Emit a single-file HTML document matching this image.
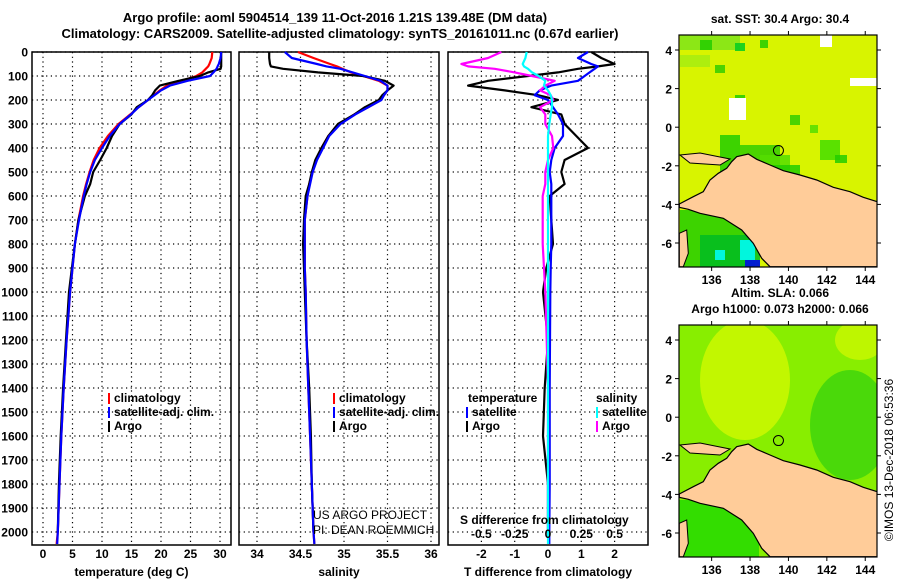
<!DOCTYPE html>
<html><head><meta charset="utf-8">
<style>
body{margin:0;background:#fff;}
svg{display:block;font-family:"Liberation Sans",sans-serif;}
.b{font-weight:bold;font-size:12px;}
.t{font-weight:bold;font-size:13px;}
</style></head>
<body>
<svg id="fig" width="900" height="580" viewBox="0 0 900 580">
<defs>
<clipPath id="clipA"><rect x="679" y="35" width="198" height="232"/></clipPath>
<clipPath id="clipB"><rect x="679" y="325" width="198" height="232"/></clipPath>
</defs>
<text class="t" x="335" y="22" text-anchor="middle">Argo profile: aoml 5904514_139 11-Oct-2016 1.21S 139.48E (DM data)</text>
<text class="t" x="340" y="38" text-anchor="middle">Climatology: CARS2009. Satellite-adjusted climatology: synTS_20161011.nc (0.67d earlier)</text>
<g id="panels"></g>
<g id="maps"></g>
<text x="893" y="460" font-size="12" text-anchor="middle" transform="rotate(-90 893 460)">©IMOS 13-Dec-2018 06:53:36</text>
</svg>
<script>
const depths=[0,25,50,60,70,85,100,120,140,160,180,200,230,260,300,350,400,450,500,550,600,700,800,900,1000,1200,1400,1600,1800,2000,2050];
const tArgo=[30.2,30.2,30.2,30.2,30.1,28,26.6,23,19.8,19,18.5,17.8,15.9,15,13,11.7,10.8,9.7,8.5,8,7.1,6.0,5.4,4.9,4.4,3.9,3.4,3.0,2.7,2.5,null];
const tClim=[28.7,28.6,28.2,28.0,27.6,27,26,23.5,21,19.8,18.8,17.8,16.2,14.8,12.8,11.0,9.6,8.6,7.9,7.3,6.8,6.0,5.4,5.0,4.6,4.0,3.5,3.1,2.8,2.5,2.3];
const tSat=[30.2,30.1,29.8,29.6,29.4,28.9,28.3,24.5,21.5,20.0,18.9,17.8,16.2,14.9,13.0,11.3,10.0,8.8,8.0,7.4,6.9,6.1,5.4,5.0,4.6,4.0,3.5,3.1,2.8,2.5,2.4];
const sArgo=[34.14,34.14,34.15,34.16,34.3,34.7,35.22,35.47,35.57,35.5,35.44,35.40,35.24,35.12,34.93,34.82,34.74,34.67,34.63,34.6,34.56,34.54,34.53,34.54,34.55,34.57,34.6,34.62,34.63,34.65,null];
const sClim=[34.47,34.65,34.84,34.92,34.98,35.08,35.22,35.4,35.5,35.5,35.46,35.42,35.28,35.12,34.95,34.82,34.74,34.68,34.64,34.6,34.58,34.55,34.55,34.55,34.56,34.57,34.59,34.61,34.63,34.65,34.66];
const sSat=[34.32,34.4,34.69,34.8,34.96,35.1,35.24,35.42,35.5,35.5,35.46,35.43,35.28,35.13,34.96,34.83,34.76,34.69,34.64,34.61,34.58,34.55,34.55,34.55,34.56,34.57,34.59,34.61,34.63,34.65,34.66];
const dTArgo=[1.3,1.6,2.0,1.5,0.9,0.3,-0.6,-1.8,-2.4,-1.3,-0.3,0.3,-0.5,0.4,0.5,0.85,1.2,0.5,0.4,0.5,0.05,0.1,0.15,-0.05,-0.15,0,-0.1,-0.15,0,0,null];
const dTSat=[1.2,0.9,1.3,1.5,1.4,1.25,1.1,0.9,0.1,-0.25,-0.4,0.0,0.15,0.3,0.45,0.45,0.2,0.1,0.05,0.1,0.1,0.1,0.1,0.08,0.07,0.06,0.05,0.05,0.05,0.04,0.04];
const dSArgo=[-0.35,-0.45,-0.65,-0.6,-0.4,-0.25,-0.12,0.05,-0.02,-0.06,0.02,0.04,-0.06,-0.02,-0.02,0.03,0.04,0.0,-0.02,-0.02,-0.04,-0.04,-0.04,-0.03,-0.02,-0.01,0,0,0,0,null];
const dSSat=[-0.16,-0.17,-0.19,-0.18,-0.15,-0.12,-0.07,-0.02,-0.03,0.0,0.02,0.03,0.03,0.02,0.01,0,0,0,0,0,0,0,0,0,0,0,0,0,0,0,0];
const depthTicks=[0,100,200,300,400,500,600,700,800,900,1000,1100,1200,1300,1400,1500,1600,1700,1800,1900,2000];
const tTicks=[0,5,10,15,20,25,30];
const sTicks=[34,34.5,35,35.5,36];
const dTTicks=[-2,-1,0,1,2];
const dSTicks=[-0.5,-0.25,0,0.25,0.5];

const NS='http://www.w3.org/2000/svg';
function mk(tag,attrs,parent){const e=document.createElementNS(NS,tag);for(const k in attrs)e.setAttribute(k,attrs[k]);parent.appendChild(e);return e;}
const Y0=52,Y1=545;
const yD=d=>52+d*0.24;
const P=[
 {x0:32,x1:231,sx:v=>43+v*5.9,ticks:tTicks,title:'temperature (deg C)',name:'temperature-panel'},
 {x0:239,x1:439,sx:v=>257+(v-34)*87,ticks:sTicks,title:'salinity',name:'salinity-panel'},
 {x0:448,x1:648,sx:v=>548+v*33.3,ticks:dTTicks,title:'T difference from climatology',name:'difference-panel'}
];
const panels=document.getElementById('panels');
P.forEach((p,i)=>{
 const g=mk('g',{},panels);
 
 
 depthTicks.forEach(d=>{
  const l=mk('line',{x1:p.x0,x2:p.x1,y1:yD(d),y2:yD(d),stroke:'#000','stroke-dasharray':'1.2,3.5','stroke-width':1.2},g);
  
  
 });
 p.ticks.forEach(v=>{
  const x=p.sx(v);
  const l=mk('line',{x1:x,x2:x,y1:Y0,y2:Y1,stroke:'#000','stroke-dasharray':'1.2,3.5','stroke-width':1.2},g);
  
  
  const t=mk('text',{x:x,y:558,'text-anchor':'middle',class:'b'},g);
  t.textContent=String(v);
  
  
 });
 const r=mk('rect',{x:p.x0,y:Y0,width:p.x1-p.x0,height:Y1-Y0,fill:'none',stroke:'#000','stroke-width':1.5},g);
 
 
 const tt=mk('text',{x:(p.x0+p.x1)/2,y:576,'text-anchor':'middle',class:'b'},g);
 tt.textContent=p.title;
 
 
});
depthTicks.forEach(d=>{
 const t=mk('text',{x:28,y:yD(d)+4.5,'text-anchor':'end',class:'b'},panels);
 t.textContent=String(d);
 
 
});
function line(vals,sx,color,name){
 let dstr='';let pen=false;
 vals.forEach((v,i)=>{if(v===null){pen=false;return;}dstr+=(pen?'L':'M')+sx(v).toFixed(1)+','+yD(depths[i]).toFixed(1);pen=true;});
 const e=mk('path',{d:dstr,fill:'none',stroke:color,'stroke-width':2.2,'stroke-linejoin':'round'},panels);
 
 
}
const sxS=v=>548+v*133.2;
line(tClim,P[0].sx,'#f00','temp-climatology-line');
line(tArgo,P[0].sx,'#000','temp-argo-line');
line(tSat,P[0].sx,'#00f','temp-satellite-line');
line(sClim,P[1].sx,'#f00','sal-climatology-line');
line(sArgo,P[1].sx,'#000','sal-argo-line');
line(sSat,P[1].sx,'#00f','sal-satellite-line');
line(dTArgo,P[2].sx,'#000','tdiff-argo-line');
line(dTSat,P[2].sx,'#00f','tdiff-satellite-line');
line(dSArgo,sxS,'#f0f','sdiff-argo-line');
line(dSSat,sxS,'#0ff','sdiff-satellite-line');
dSTicks.forEach(v=>{
 const t=mk('text',{x:sxS(v),y:538,'text-anchor':'middle',class:'b'},panels);
 t.textContent=String(v);
 
 
});
function leg(x,y,color,label,name){
 const g=mk('g',{},panels);
 
 
 mk('rect',{x:x,y:y-9,width:2,height:11,fill:color},g);
 if(label){const t=mk('text',{x:x+6,y:y,class:'b'},g);t.textContent=label;}
}
leg(108,402,'#f00','climatology','legend-climatology');
leg(108,416,'#00f','satellite-adj. clim.','legend-satellite');
leg(108,430,'#000','Argo','legend-argo');
leg(333,402,'#f00','climatology','legend-sal-climatology');
leg(333,416,'#00f','satellite-adj. clim.','legend-sal-satellite');
leg(333,430,'#000','Argo','legend-sal-argo');
leg(466,416,'#00f','satellite','legend-tdiff-satellite');
leg(466,430,'#000','Argo','legend-tdiff-argo');
leg(596,416,'#0ff','satellite','legend-sdiff-satellite');
leg(596,430,'#f0f','Argo','legend-sdiff-argo');
[[468,402,'temperature','legend-temperature-header'],[596,402,'salinity','legend-salinity-header'],[460,524,'S difference from climatology','s-diff-axis-title']].forEach(a=>{
 const t=mk('text',{x:a[0],y:a[1],class:'b'},panels);t.textContent=a[2];
 
 
});
[[313,519,'US ARGO PROJECT','project-credit'],[313,534,'PI: DEAN ROEMMICH','pi-credit']].forEach(a=>{
 const t=mk('text',{x:a[0],y:a[1],'font-size':'12'},panels);t.textContent=a[2];
 
 
});

// Maps
const maps=document.getElementById('maps');
const lonTicks=[136,138,140,142,144];
const latTicks=[4,2,0,-2,-4,-6];
const mx=lon=>679+(lon-134.3)*19.2;
const land=[[58,612],[100,590],[130,575],[150,540],[175,520],[200,505],[215,485],[230,470],[265,462],[290,478],[330,495],[370,512],[420,525],[470,540],[520,562],[570,575],[610,592],[652,605],[652,800],[330,800],[305,775],[280,730],[245,690],[190,655],[120,640],[85,628],[58,622]];
const land2=[[58,700],[80,690],[85,760],[70,800],[58,800]];
// decorative SST cells: [x, yOffsetFromTop, w, h, color]
const sstCells=[[680,0,60,15,'#7fe41a'],[700,5,12,10,'#22cc00'],[735,8,10,8,'#00cc22'],[760,5,8,8,'#22cc00'],[680,20,30,12,'#a6ec10'],[715,30,10,8,'#33cc00'],[735,60,10,8,'#22cc00'],[720,100,20,50,'#22cc00'],[740,110,40,25,'#33cc00'],[760,120,30,15,'#55dd00'],[770,130,30,20,'#22cc00'],[820,105,20,20,'#44dd00'],[835,120,12,8,'#22cc00'],[790,80,10,10,'#33cc00'],[810,90,8,8,'#55dd00'],[850,170,20,25,'#55dd00'],[680,175,75,60,'#22cc00'],[700,200,60,32,'#00bb22'],[740,205,15,20,'#00ffff'],[745,225,15,7,'#0000ee'],[715,215,10,10,'#00ffff']];
function drawMap(oy,title1,title2,kind,clip){
 const g=mk('g',{},maps);
 
 
 const cg=mk('g',{'clip-path':'url(#'+clip+')'},g);
 const my=lat=>oy+15+(4-lat)*19.3;
 const top=oy,bot=oy+232;
 if(kind==='sst'){
  mk('rect',{x:679,y:top,width:198,height:232,fill:'#d8f400'},cg);
  sstCells.forEach(c=>{mk('rect',{x:c[0],y:top+c[1],width:c[2],height:c[3],fill:c[4],opacity:0.85},cg);});
  mk('rect',{x:729,y:top+63,width:17,height:22,fill:'#fff'},cg);
  mk('rect',{x:850,y:top+43,width:27,height:8,fill:'#fff'},cg);
  mk('rect',{x:820,y:top,width:12,height:12,fill:'#fff'},cg);
 } else {
  mk('rect',{x:679,y:top,width:198,height:232,fill:'#88ee00'},cg);
  mk('ellipse',{cx:745,cy:top+55,rx:45,ry:60,fill:'#ccf800',opacity:0.85},cg);
  mk('ellipse',{cx:850,cy:top+100,rx:40,ry:55,fill:'#22cc11',opacity:0.6},cg);
  mk('ellipse',{cx:860,cy:top+15,rx:25,ry:20,fill:'#ccf800',opacity:0.8},cg);
  mk('rect',{x:679,y:top+175,width:80,height:57,fill:'#33dd00'},cg);
 }
 const pts=land.map(p=>(660+p[0]/3).toFixed(1)+','+(oy-35+p[1]/3).toFixed(1)).join(' ');
 mk('polygon',{points:pts,fill:'#ffcc99',stroke:'#000','stroke-width':1.2},cg);
 const pts2=land2.map(p=>(660+p[0]/3).toFixed(1)+','+(oy-35+p[1]/3).toFixed(1)).join(' ');
 mk('polygon',{points:pts2,fill:'#ffcc99',stroke:'#000','stroke-width':1},cg);
 mk('polygon',{points:[[680,oy+120],[700,oy+118],[730,oy+124],[720,oy+130],[690,oy+128]].map(p=>p.join(',')).join(' '),fill:'#ffcc99',stroke:'#000','stroke-width':1},cg);
 const c=mk('circle',{cx:mx(139.48),cy:my(-1.21),r:5,fill:'none',stroke:'#000','stroke-width':1},g);
 
 
 mk('rect',{x:679,y:top,width:198,height:232,fill:'none',stroke:'#000','stroke-width':1.2},g);
 lonTicks.forEach(l=>{
  mk('line',{x1:mx(l),x2:mx(l),y1:top,y2:top-4,stroke:'#000'},g);
  mk('line',{x1:mx(l),x2:mx(l),y1:bot,y2:bot+4,stroke:'#000'},g);
  const t=mk('text',{x:mx(l),y:bot+17,'text-anchor':'middle',class:'b'},g);t.textContent=String(l);
  
  
 });
 latTicks.forEach(l=>{
  mk('line',{x1:679,x2:675,y1:my(l),y2:my(l),stroke:'#000'},g);
  mk('line',{x1:877,x2:881,y1:my(l),y2:my(l),stroke:'#000'},g);
  const t=mk('text',{x:672,y:my(l)+5,'text-anchor':'end',class:'b'},g);t.textContent=String(l);
  
  
 });
 const t1=mk('text',{x:780,y:title2?oy-28:oy-12,'text-anchor':'middle',class:'b'},g);t1.textContent=title1;
 
 
 if(title2){const t2=mk('text',{x:780,y:oy-12,'text-anchor':'middle',class:'b'},g);t2.textContent=title2;
 
 }
}
drawMap(35,'sat. SST: 30.4 Argo: 30.4',null,'sst','clipA');
drawMap(325,'Altim. SLA: 0.066','Argo h1000: 0.073 h2000: 0.066','sla','clipB');
</script>
</body></html>
